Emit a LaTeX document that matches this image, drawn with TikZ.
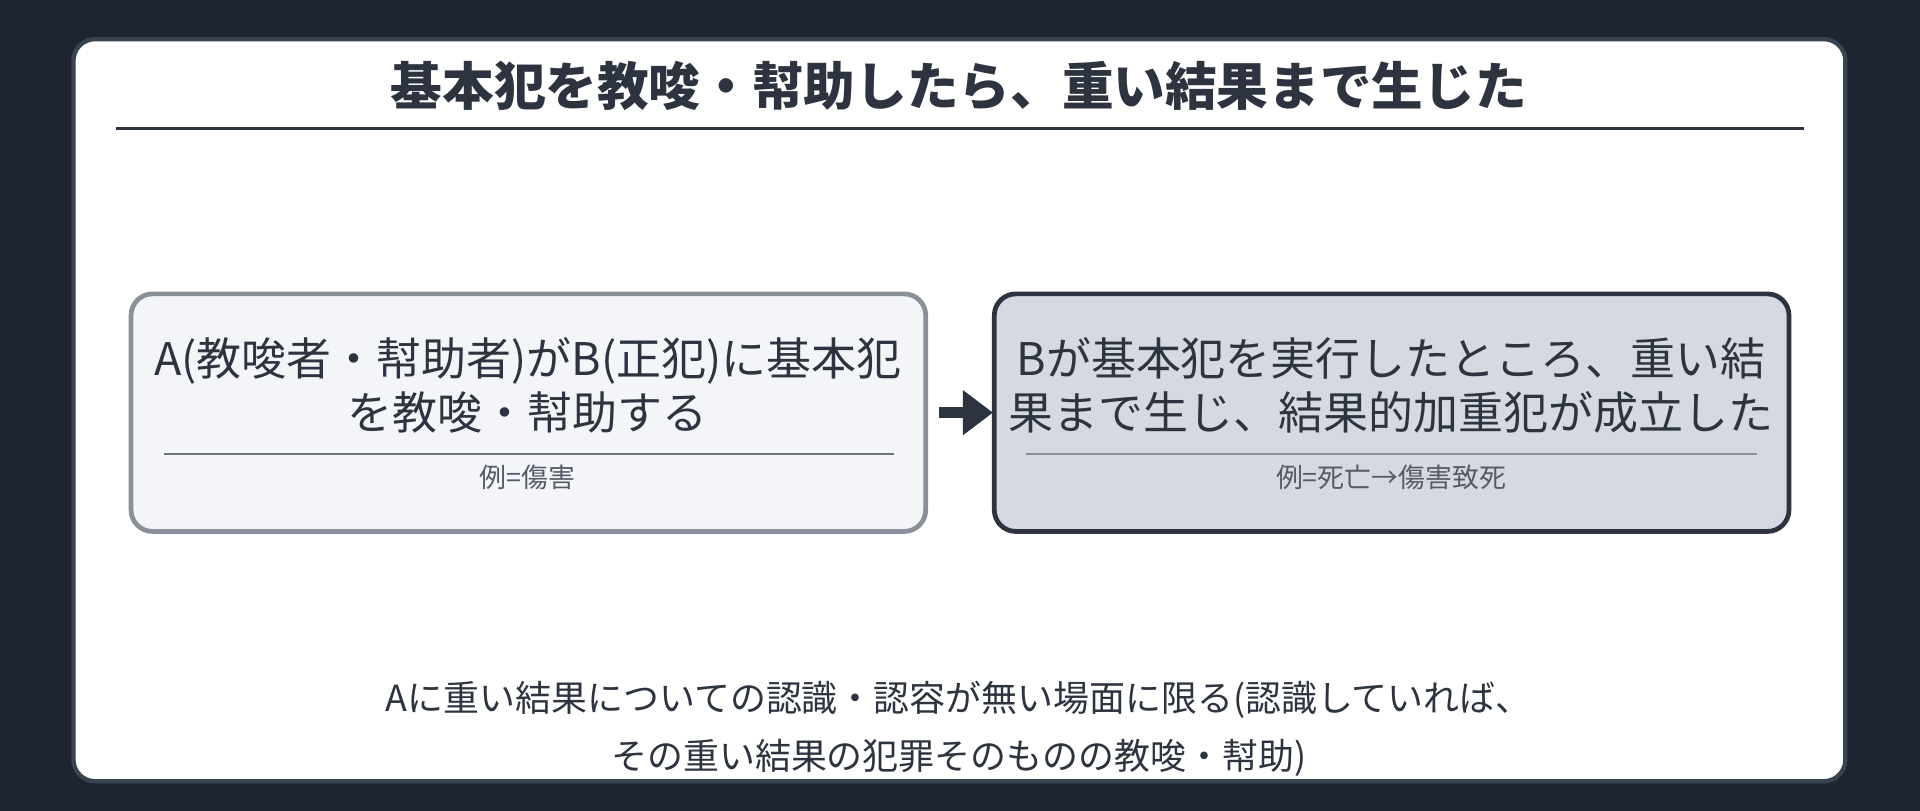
\documentclass[tikz,border=0pt]{standalone}
\usepackage{fontspec}
\setmainfont{Noto Sans CJK JP}
\usetikzlibrary{arrows.meta}
\definecolor{bg}{HTML}{1E2530}
\definecolor{frame}{HTML}{3A4350}
\definecolor{ink}{HTML}{2D3440}
\definecolor{lbox}{HTML}{F3F5F8}
\definecolor{lbord}{HTML}{8A909A}
\definecolor{rbox}{HTML}{D5D9E0}
\definecolor{sub}{HTML}{555B66}
\begin{document}
\begin{tikzpicture}[x=0.02cm,y=-0.02cm,
  box/.style={rounded corners=10pt,line width=2.2pt},
  main/.style={font=\fontsize{20.9}{25}\selectfont,text=ink,align=center},
  small/.style={font=\fontsize{12.5}{15}\selectfont,text=sub}]
\fill[bg] (0,0) rectangle (1568,662);
\useasboundingbox (0,0) rectangle (1568,662);
\draw[fill=white,draw=frame,line width=2pt,rounded corners=10pt] (60,32) rectangle (1507,638);
\node[font=\bfseries\fontsize{24}{28}\selectfont,text=ink] (title) at (783,70) {基本犯を教唆・幇助したら、重い結果まで生じた};
\draw[ink,line width=1.2pt] (95,105) -- (1473,105);
\draw[box,fill=lbox,draw=lbord] (107,240) rectangle (756,434);
\node (lb) at (431,337) {};
\node[main] (lt) at (431,315) {A(教唆者・幇助者)がB(正犯)に基本犯\\を教唆・幇助する};
\draw[lbord!80!black,line width=1pt] (134,371) -- (730,371);
\node[small] (ls) at (431,390) {例=傷害};
\draw[box,fill=rbox,draw=ink] (812,240) rectangle (1461,434);
\node (rb) at (1136,337) {};
\node[main] (rt) at (1136,315) {Bが基本犯を実行したところ、重い結\\果まで生じ、結果的加重犯が成立した};
\draw[lbord,line width=1pt] (838,371) -- (1435,371);
\node[small] (rs) at (1136,390) {例=死亡→傷害致死};
\coordinate (a1) at (767,337);
\coordinate (a2) at (811,337);
\draw[ink,line width=5pt,-{Triangle[length=14pt,width=20pt]}] (a1) -- (a2);
\node[font=\fontsize{16.7}{27}\selectfont,text=ink,align=center] (foot) at (783,595) {Aに重い結果についての認識・認容が無い場面に限る(認識していれば、\\その重い結果の犯罪そのものの教唆・幇助)};
\end{tikzpicture}
\end{document}
